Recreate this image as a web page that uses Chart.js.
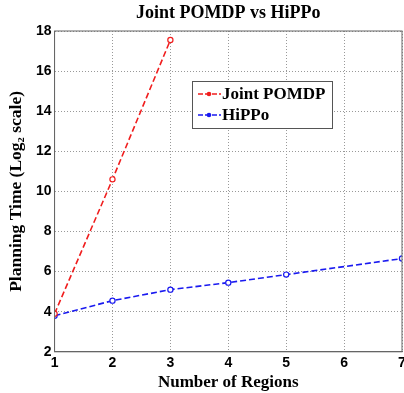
<!DOCTYPE html>
<html>
<head>
<meta charset="utf-8">
<script src="https://cdn.jsdelivr.net/npm/chart.js@4"></script>
<style>
  body { margin: 0; background: #fff; overflow: hidden; }
  #c { display: block; }
</style>
</head>
<body>
<canvas id="c" width="404" height="393" style="width:404px;height:393px"></canvas>
<script>
const jointX = [1, 2, 3];
const jointY = [3.9, 10.6, 17.55];
const hippoX = [1, 2, 3, 4, 5, 7];
const hippoY = [3.8, 4.55, 5.1, 5.45, 5.85, 6.65];
const xTicks = [1, 2, 3, 4, 5, 6, 7];
const yTicks = [2, 4, 6, 8, 10, 12, 14, 16, 18];
const chartTitle = 'Joint POMDP vs HiPPo';

const serif = '"Liberation Serif", "Times New Roman", serif';
const sans = '"Liberation Sans", Arial, sans-serif';

// title centred over the plot area, legend box inside it
const overlay = {
    id: 'overlay',
    afterDraw(chart) {
        const c = chart.ctx;
        const a = chart.chartArea;
        c.save();
        c.fillStyle = '#000';
        c.font = 'bold 18px ' + serif;
        c.textAlign = 'center';
        c.textBaseline = 'middle';
        c.fillText(chartTitle, (a.left + a.right) / 2, 13);

        const x = 192, y = 81, w = 140, h = 47;
        c.fillStyle = '#fff';
        c.fillRect(x, y, w, h);
        c.strokeStyle = '#555';
        c.lineWidth = 1;
        c.strokeRect(x + 0.5, y + 0.5, w, h);
        c.textAlign = 'left';
        chart.data.datasets.forEach((ds, i) => {
            const ly = y + 13 + i * 21;
            c.strokeStyle = ds.borderColor;
            c.lineWidth = 1.5;
            c.setLineDash([5, 2]);
            c.beginPath();
            c.moveTo(x + 6, ly);
            c.lineTo(x + 29, ly);
            c.stroke();
            c.setLineDash([]);
            c.fillStyle = ds.borderColor;
            c.beginPath();
            c.arc(x + 17, ly, 2.3, 0, Math.PI * 2);
            c.fill();
            c.fillStyle = '#000';
            c.font = 'bold 17px ' + serif;
            c.fillText(ds.label, x + 30, ly + 1);
        });
        c.restore();
    }
};

const frame = {
    id: 'frame',
    afterDatasetsDraw(chart) {
        const a = chart.chartArea, c = chart.ctx;
        c.save();
        c.strokeStyle = '#666';
        c.lineWidth = 1;
        c.strokeRect(a.left, a.top, a.right - a.left, a.bottom - a.top);
        c.restore();
    }
};

new Chart(document.getElementById('c'), {
    type: 'line',
    data: {
        datasets: [{
            label: 'Joint POMDP',
            data: jointX.map((x, i) => ({ x: x, y: jointY[i] })),
            borderColor: '#f01e1e',
            backgroundColor: '#f01e1e',
            borderWidth: 1.6,
            borderDash: [6, 3],
            pointRadius: 2.6,
            pointBorderWidth: 1.2,
            pointBackgroundColor: '#ffffff'
        }, {
            label: 'HiPPo',
            data: hippoX.map((x, i) => ({ x: x, y: hippoY[i] })),
            borderColor: '#1a1af0',
            backgroundColor: '#1a1af0',
            borderWidth: 1.6,
            borderDash: [6, 3],
            pointRadius: 2.6,
            pointBorderWidth: 1.2,
            pointBackgroundColor: '#ffffff'
        }]
    },
    options: {
        responsive: false,
        animation: false,
        layout: { autoPadding: false, padding: { left: 4, right: 2, top: 31, bottom: 0 } },
        plugins: {
            legend: { display: false },
            tooltip: { enabled: false },
            title: { display: false }
        },
        scales: {
            x: {
                type: 'linear',
                min: 1,
                max: 7,
                afterBuildTicks(axis) { axis.ticks = xTicks.map(v => ({ value: v })); },
                // let the last label run off the edge like the original
                afterFit(axis) { axis.paddingRight = 0; },
                grid: { color: '#999', drawTicks: false },
                border: { color: '#666', width: 1, dash: [1, 2] },
                ticks: { color: '#000', padding: 3, font: { family: sans, size: 14, weight: 'bold' } },
                title: {
                    display: true,
                    text: 'Number of Regions',
                    color: '#000',
                    padding: { top: -2, bottom: 0 },
                    font: { family: serif, size: 17, weight: 'bold' }
                }
            },
            y: {
                min: 2,
                max: 18,
                afterBuildTicks(axis) { axis.ticks = yTicks.map(v => ({ value: v })); },
                grid: { color: '#999', drawTicks: false },
                border: { color: '#666', width: 1, dash: [1, 2] },
                ticks: { color: '#000', padding: 3, font: { family: sans, size: 14, weight: 'bold' } },
                title: {
                    display: true,
                    text: 'Planning Time (Log\u2082 scale)',
                    color: '#000',
                    padding: { top: 2, bottom: 6 },
                    font: { family: serif, size: 17.5, weight: 'bold' }
                }
            }
        }
    },
    plugins: [frame, overlay]
});
</script>
</body>
</html>
